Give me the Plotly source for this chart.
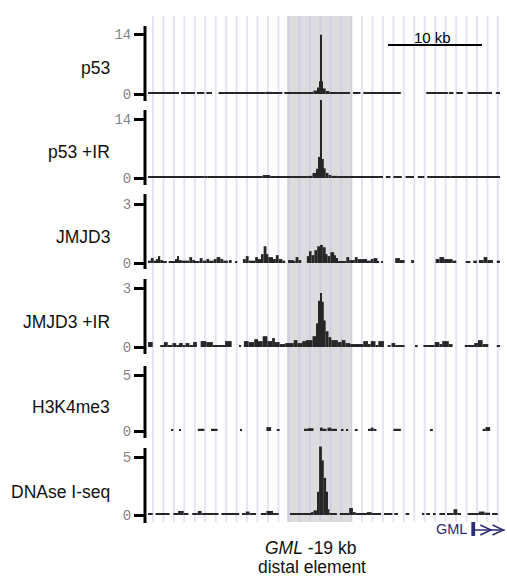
import plotly.graph_objects as go

# ---------------- data: bedGraph-style tracks (start_kb, end_kb, value) ----------------
p53 = [
    (0.0, 3.3, 0.3), (3.5, 5.0, 0.35), (5.2, 6.0, 0.3), (6.2, 6.8, 0.25),
    (7.5, 12.5, 0.3), (12.5, 13.2, 0.5), (13.2, 14.3, 0.3), (14.5, 17.6, 0.3),
    (17.6, 18.0, 0.8), (18.0, 18.2, 1.5), (18.2, 18.3, 3.0), (18.3, 18.5, 13.8),
    (18.5, 18.6, 3.0), (18.6, 18.9, 1.3), (18.9, 19.3, 0.7), (19.3, 21.5, 0.35),
    (21.8, 22.6, 0.3), (22.9, 26.9, 0.4), (29.6, 31.9, 0.35), (32.0, 32.5, 0.3),
    (32.8, 33.5, 0.3), (34.0, 36.6, 0.4), (37.0, 37.45, 0.3),
]
p53_ir = [
    (0.0, 6.0, 0.25), (6.0, 6.3, 0.4), (6.3, 12.2, 0.25), (12.2, 13.0, 0.7),
    (13.0, 17.0, 0.25), (17.0, 17.5, 0.5), (17.5, 17.9, 1.2), (17.9, 18.1, 2.2),
    (18.1, 18.3, 5.0), (18.3, 18.5, 18.5), (18.5, 18.7, 4.5), (18.7, 18.9, 2.3),
    (18.9, 19.2, 1.2), (19.2, 19.5, 0.7), (19.5, 20.2, 0.5), (20.2, 25.0, 0.25),
    (25.3, 25.8, 0.25), (26.1, 27.0, 0.3), (27.4, 28.3, 0.4), (28.7, 29.4, 0.25),
    (29.7, 31.5, 0.25), (31.5, 32.2, 0.4), (32.2, 37.45, 0.25),
]
jmjd3 = [
    (0.0, 0.3, 0.12), (0.3, 0.6, 0.25), (0.6, 0.9, 0.12), (0.9, 1.1, 0.2),
    (1.1, 1.3, 0.35), (1.3, 1.6, 0.15), (1.6, 2.0, 0.1), (2.2, 2.9, 0.1),
    (2.9, 3.1, 0.2), (3.1, 3.3, 0.35), (3.3, 3.6, 0.15), (3.6, 4.4, 0.12),
    (4.4, 4.7, 0.3), (4.7, 5.0, 0.15), (5.0, 5.5, 0.1), (5.5, 5.8, 0.25),
    (5.8, 6.2, 0.12), (6.2, 6.5, 0.2), (6.5, 7.0, 0.12), (7.0, 7.3, 0.2),
    (7.3, 7.7, 0.3), (7.7, 8.0, 0.2), (8.0, 8.5, 0.12), (8.6, 8.9, 0.15),
    (9.3, 9.5, 0.1), (10.1, 10.4, 0.2), (10.4, 10.7, 0.35), (10.7, 11.4, 0.12),
    (11.4, 11.7, 0.3), (11.7, 12.1, 0.2), (12.1, 12.3, 0.45), (12.3, 12.6, 0.85),
    (12.6, 12.8, 0.45), (12.8, 13.3, 0.3), (13.3, 13.6, 0.2), (13.6, 13.9, 0.4),
    (13.9, 14.3, 0.2), (14.3, 14.6, 0.12), (14.9, 15.5, 0.15), (15.5, 15.7, 0.1),
    (15.7, 16.0, 0.3), (16.0, 16.3, 0.15), (16.9, 17.2, 0.35), (17.2, 17.4, 0.6),
    (17.4, 17.7, 0.4), (17.7, 18.0, 0.65), (18.0, 18.3, 0.85), (18.3, 18.6, 0.92),
    (18.6, 18.9, 0.8), (18.9, 19.1, 0.45), (19.1, 19.4, 0.35), (19.4, 19.8, 0.55),
    (19.8, 20.0, 0.4), (20.0, 20.2, 0.25), (20.2, 21.1, 0.1), (21.1, 21.4, 0.3),
    (21.4, 22.0, 0.15), (22.0, 22.3, 0.3), (22.3, 23.3, 0.2), (23.3, 23.7, 0.12),
    (23.7, 24.0, 0.2), (24.0, 24.4, 0.25), (24.4, 24.6, 0.1), (24.8, 25.0, 0.1),
    (26.3, 26.8, 0.25), (26.8, 27.3, 0.15), (28.0, 28.3, 0.15), (30.6, 31.0, 0.2),
    (31.0, 31.5, 0.3), (31.5, 32.4, 0.2), (32.4, 32.8, 0.12), (33.8, 34.3, 0.1),
    (34.6, 35.0, 0.12), (35.2, 35.7, 0.15), (35.7, 36.1, 0.3), (36.1, 36.7, 0.15),
    (37.1, 37.45, 0.12),
]
jmjd3_ir = [
    (0.0, 0.5, 0.25), (1.3, 1.7, 0.1), (1.7, 2.1, 0.25), (2.1, 2.6, 0.1),
    (2.6, 3.0, 0.2), (3.0, 3.3, 0.1), (3.3, 3.7, 0.2), (3.7, 4.0, 0.1),
    (4.0, 4.4, 0.2), (4.4, 4.8, 0.1), (4.8, 5.2, 0.25), (5.6, 6.2, 0.3),
    (6.2, 6.9, 0.25), (6.9, 8.2, 0.08), (8.2, 8.9, 0.3), (9.7, 9.9, 0.1),
    (10.2, 10.7, 0.3), (10.7, 11.3, 0.25), (11.3, 11.7, 0.4), (11.7, 12.2, 0.3),
    (12.2, 12.7, 0.55), (12.7, 13.2, 0.3), (13.2, 13.5, 0.45), (13.5, 14.0, 0.25),
    (14.0, 14.6, 0.15), (14.6, 15.5, 0.2), (15.5, 15.9, 0.35), (15.9, 16.4, 0.2),
    (16.4, 16.8, 0.3), (16.8, 17.5, 0.35), (17.5, 17.9, 0.55), (17.9, 18.1, 1.2),
    (18.1, 18.3, 2.35), (18.3, 18.5, 2.75), (18.5, 18.7, 2.3), (18.7, 18.9, 1.35),
    (18.9, 19.2, 0.8), (19.2, 19.5, 0.5), (19.5, 20.2, 0.35), (20.2, 20.6, 0.25),
    (20.6, 21.0, 0.35), (21.0, 21.5, 0.2), (21.5, 22.9, 0.15), (22.9, 23.4, 0.3),
    (23.4, 23.7, 0.15), (23.7, 24.2, 0.3), (24.2, 24.5, 0.1), (24.5, 25.1, 0.3),
    (25.5, 25.8, 0.1), (25.9, 26.3, 0.2), (26.3, 27.3, 0.08), (28.5, 28.7, 0.1),
    (29.3, 30.5, 0.08), (30.5, 31.0, 0.25), (31.0, 31.3, 0.15), (31.3, 32.0, 0.3),
    (32.0, 32.4, 0.15), (33.7, 34.7, 0.08), (34.7, 35.1, 0.2), (35.1, 35.6, 0.35),
    (35.6, 36.2, 0.15), (37.1, 37.45, 0.1),
]
h3k4me3 = [
    (2.5, 2.7, 0.15), (3.4, 3.5, 0.15), (5.3, 6.0, 0.2), (6.7, 7.4, 0.2),
    (9.8, 10.0, 0.15), (12.6, 13.1, 0.35), (13.7, 14.0, 0.15), (16.6, 17.0, 0.2),
    (17.0, 17.6, 0.25), (18.3, 18.6, 0.3), (18.6, 19.0, 0.2), (19.1, 19.5, 0.3),
    (19.5, 20.1, 0.2), (20.6, 20.8, 0.15), (21.1, 21.3, 0.15), (22.0, 22.3, 0.15),
    (23.4, 23.7, 0.2), (23.7, 24.0, 0.3), (24.0, 24.3, 0.15), (26.1, 26.9, 0.2),
    (30.1, 30.3, 0.15), (35.6, 35.9, 0.2), (35.9, 36.4, 0.35),
]
dnase = [
    (0.0, 0.5, 0.1), (0.8, 2.3, 0.1), (2.7, 3.2, 0.15), (3.2, 3.8, 0.35),
    (3.8, 4.3, 0.15), (4.7, 5.3, 0.15), (5.3, 5.7, 0.35), (5.7, 7.5, 0.12),
    (7.8, 9.7, 0.12), (10.0, 10.4, 0.15), (10.4, 10.8, 0.3), (10.8, 11.5, 0.15),
    (12.0, 12.6, 0.15), (12.6, 13.3, 0.35), (13.3, 13.9, 0.12), (15.1, 17.4, 0.12),
    (17.4, 17.6, 0.25), (17.6, 18.0, 0.4), (18.0, 18.2, 2.0), (18.2, 18.5, 5.9),
    (18.5, 18.7, 4.7), (18.7, 18.95, 3.2), (18.95, 19.1, 2.0), (19.1, 19.3, 0.5),
    (19.3, 20.1, 0.15), (20.4, 21.4, 0.15), (21.4, 21.8, 0.6), (21.8, 22.1, 0.25),
    (22.1, 23.3, 0.12), (23.3, 23.8, 0.25), (23.8, 24.8, 0.12), (25.1, 26.0, 0.12),
    (26.2, 26.6, 0.12), (27.4, 27.8, 0.12), (29.2, 29.4, 0.1), (29.6, 30.0, 0.1),
    (30.4, 30.6, 0.1), (31.0, 31.6, 0.12), (31.8, 32.5, 0.15), (32.5, 32.9, 0.5),
    (32.9, 33.3, 0.15), (34.0, 35.2, 0.12), (35.2, 35.8, 0.3), (35.8, 36.4, 0.2),
    (36.6, 37.2, 0.1),
]

track_names = ["p53", "p53 +IR", "JMJD3", "JMJD3 +IR", "H3K4me3", "DNAse I-seq"]
track_data = [p53, p53_ir, jmjd3, jmjd3_ir, h3k4me3, dnase]
track_max = [14, 14, 3, 3, 5, 5]

highlight_kb = (14.79, 21.70)          # distal element region
grid_start_kb, grid_step_kb, grid_n = 0.53, 1.112, 34
scale_bar_kb = (25.53, 35.53)          # 10 kb
gene_tss_kb = 34.6                     # GML

# ---------------- layout geometry (pixels) ----------------
W, H = 507, 579
L, R, T, B = 145, 2, 16, 57
PW, PH = W - L - R, H - T - B
x_range = [-3 / 9.4, (W - R - 148) / 9.4]

def fy(px):
    return (H - B - px) / PH

def fx(px):
    return (px - L) / PW

zero_px = [94, 178, 263, 347, 431, 515]
top_px = [34, 119, 204, 288, 375, 457]
dom_px = [(20, 101), (96, 186), (190, 270), (274, 354), (360, 438), (444, 522)]
axis_px = [(26, 101), (110, 185), (194, 269), (279, 354), (366, 438), (448, 523)]
label_px = [68, 152, 237, 322, 407, 492]

fig = go.Figure()
layout = dict(
    width=W, height=H, margin=dict(l=L, r=R, t=T, b=B),
    paper_bgcolor="white", plot_bgcolor="rgba(0,0,0,0)",
    showlegend=False, barmode="overlay",
    xaxis=dict(range=x_range, visible=False, fixedrange=True),
)

shapes = []
annotations = []

# highlighted region
shapes.append(dict(type="rect", xref="x", yref="paper", x0=highlight_kb[0], x1=highlight_kb[1],
                   y0=0, y1=1, fillcolor="#dcdcde", line=dict(width=0), layer="below"))
# base-position stripes
for i in range(grid_n):
    gx = grid_start_kb + grid_step_kb * i
    shapes.append(dict(type="line", xref="x", yref="paper", x0=gx, x1=gx, y0=0, y1=1,
                       line=dict(color="rgba(190,190,232,0.42)", width=2), layer="below"))

for i, (name, data, vmax) in enumerate(zip(track_names, track_data, track_max)):
    ax = "y" if i == 0 else f"y{i+1}"
    key = "yaxis" if i == 0 else f"yaxis{i+1}"
    xs = [(s + e) / 2 for s, e, v in data]
    ws = [(e - s) for s, e, v in data]
    vs = [v for s, e, v in data]
    fig.add_trace(go.Bar(x=xs, y=vs, width=ws, base=0, xaxis="x", yaxis=ax,
                         marker=dict(color="#262626", line=dict(width=0)),
                         hoverinfo="skip"))
    z, t = zero_px[i], top_px[i]
    dtop, dbot = dom_px[i]
    s = (z - t) / vmax
    layout[key] = dict(
        domain=[max(0, fy(dbot)), min(1, fy(dtop))],
        range=[-(dbot - z) / s, (z - dtop) / s],
        anchor="x", showgrid=False, zeroline=False, showline=False,
        tickvals=[0, vmax], ticktext=["0", str(vmax)],
        ticks="outside", ticklen=10, tickwidth=2.5, tickcolor="black",
        tickfont=dict(family="Liberation Mono", size=14, color="#858585"),
        fixedrange=True,
    )
    a0, a1 = axis_px[i]
    shapes.append(dict(type="line", xref="paper", yref="paper", x0=0, x1=0,
                       y0=fy(a1), y1=fy(a0), line=dict(color="black", width=3)))
    annotations.append(dict(text=name, xref="paper", yref="paper", x=fx(112), y=fy(label_px[i]),
                            xanchor="right", yanchor="middle", showarrow=False,
                            font=dict(family="Liberation Sans", size=17.5, color="#111111")))

# scale bar
shapes.append(dict(type="line", xref="x", yref="paper", x0=scale_bar_kb[0], x1=scale_bar_kb[1],
                   y0=fy(45), y1=fy(45), line=dict(color="black", width=2)))
annotations.append(dict(text="10 kb", xref="x", yref="paper",
                        x=(scale_bar_kb[0] + scale_bar_kb[1]) / 2 - 0.3, y=fy(38),
                        xanchor="center", yanchor="middle", showarrow=False,
                        font=dict(family="Liberation Sans", size=15, color="black")))

# gene model GML
navy = "#2c2c74"
shapes.append(dict(type="rect", xref="x", yref="paper", x0=gene_tss_kb - 0.2, x1=gene_tss_kb + 0.2,
                   y0=fy(536), y1=fy(522), fillcolor=navy, line=dict(width=0)))
shapes.append(dict(type="line", xref="x", yref="paper", x0=gene_tss_kb, x1=gene_tss_kb + 3.35,
                   y0=fy(530), y1=fy(530), line=dict(color=navy, width=1.5)))
for c0 in (0.75, 2.05):
    x0 = gene_tss_kb + c0
    x1 = x0 + 1.15
    shapes.append(dict(type="path", xref="x", yref="paper",
                       path=f"M {x0},{fy(525)} L {x1},{fy(530)} L {x0},{fy(535)}",
                       line=dict(color=navy, width=1.5)))
annotations.append(dict(text="GML", xref="x", yref="paper", x=gene_tss_kb - 0.5, y=fy(529),
                        xanchor="right", yanchor="middle", showarrow=False,
                        font=dict(family="Liberation Sans", size=14.5, color=navy)))

# element label
annotations.append(dict(text="<i>GML</i> -19 kb", xref="paper", yref="paper", x=fx(310), y=fy(548),
                        xanchor="center", yanchor="middle", showarrow=False,
                        font=dict(family="Liberation Sans", size=17.5, color="#111111")))
annotations.append(dict(text="distal element", xref="paper", yref="paper", x=fx(312), y=fy(567),
                        xanchor="center", yanchor="middle", showarrow=False,
                        font=dict(family="Liberation Sans", size=17.5, color="#111111")))

layout["shapes"] = shapes
layout["annotations"] = annotations
fig.update_layout(**layout)
fig.write_html("out.html", config={"displayModeBar": False},
               post_script="document.body.style.margin='0';document.body.style.padding='0';")
